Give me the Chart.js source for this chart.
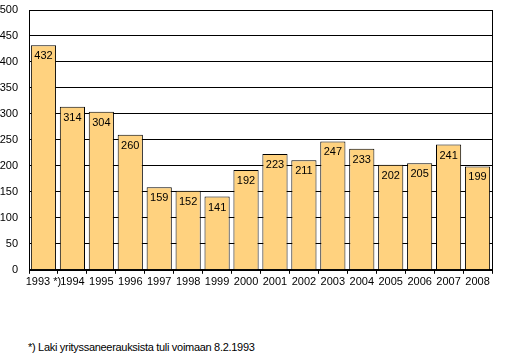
<!DOCTYPE html>
<html>
<head>
<meta charset="utf-8">
<script src="https://cdn.jsdelivr.net/npm/chart.js@4"></script>
<style>
    body { margin: 0; background: #fff; }
    #wrap { position: relative; width: 518px; height: 354px; }
    #note {
        position: absolute; left: 28px; top: 341px;
        font: 11px "Liberation Sans", Arial, sans-serif; color: #000;
        letter-spacing: -0.3px;
    }
</style>
</head>
<body>
<div id="wrap">
    <canvas id="chart" width="518" height="300"></canvas>
    <div id="note">*) Laki yrityssaneerauksista tuli voimaan 8.2.1993</div>
</div>
<script>
const years = ['1993 *)', '1994', '1995', '1996', '1997', '1998', '1999', '2000',
    '2001', '2002', '2003', '2004', '2005', '2006', '2007', '2008'];
const counts = [432, 314, 304, 260, 159, 152, 141, 192, 223, 211, 247, 233, 202, 205, 241, 199];

const FONT = { family: '"Liberation Sans", Arial, sans-serif', size: 11 };

// value inside top of each bar
const valueLabels = {
    id: 'valueLabels',
    afterDatasetsDraw(chart) {
        const ctx = chart.ctx;
        const meta = chart.getDatasetMeta(0);
        ctx.save();
        ctx.font = '11px "Liberation Sans", Arial, sans-serif';
        ctx.fillStyle = '#000';
        ctx.textAlign = 'center';
        ctx.textBaseline = 'middle';
        meta.data.forEach((bar, i) => {
            ctx.fillText(counts[i], bar.x, bar.y + 11);
        });
        ctx.restore();
    }
};

// frame round the plot area
const frame = {
    id: 'frame',
    afterDraw(chart) {
        const a = chart.chartArea;
        const ctx = chart.ctx;
        ctx.save();
        ctx.strokeStyle = '#000';
        ctx.lineWidth = 1;
        ctx.strokeRect(Math.round(a.left) + 0.5, Math.round(a.top) + 0.5,
            Math.round(a.right - a.left), Math.round(a.bottom - a.top));
        ctx.restore();
    }
};

new Chart(document.getElementById('chart'), {
    type: 'bar',
    data: {
        labels: years,
        datasets: [{
            data: counts,
            backgroundColor: '#ffd27f',
            borderColor: '#000',
            borderWidth: 1,
            categoryPercentage: 1,
            barPercentage: 0.87
        }]
    },
    options: {
        responsive: false,
        animation: false,
        layout: { padding: { left: 0, right: 26, top: 10, bottom: 9 } },
        plugins: {
            legend: { display: false },
            tooltip: { enabled: false }
        },
        scales: {
            x: {
                grid: { drawOnChartArea: false, drawTicks: true, tickLength: 4, color: '#000' },
                border: { color: '#000' },
                ticks: { color: '#000', font: FONT, maxRotation: 0, autoSkip: false, padding: 2 }
            },
            y: {
                min: 0,
                max: 500,
                afterFit(scale) {
                    scale.width = 29;
                    scale.paddingTop = 0;
                    scale.paddingBottom = 0;
                },
                grid: { color: '#000', drawTicks: false },
                border: { color: '#000' },
                ticks: { stepSize: 50, color: '#000', font: FONT, padding: 11 }
            }
        }
    },
    plugins: [valueLabels, frame]
});
</script>
</body>
</html>
